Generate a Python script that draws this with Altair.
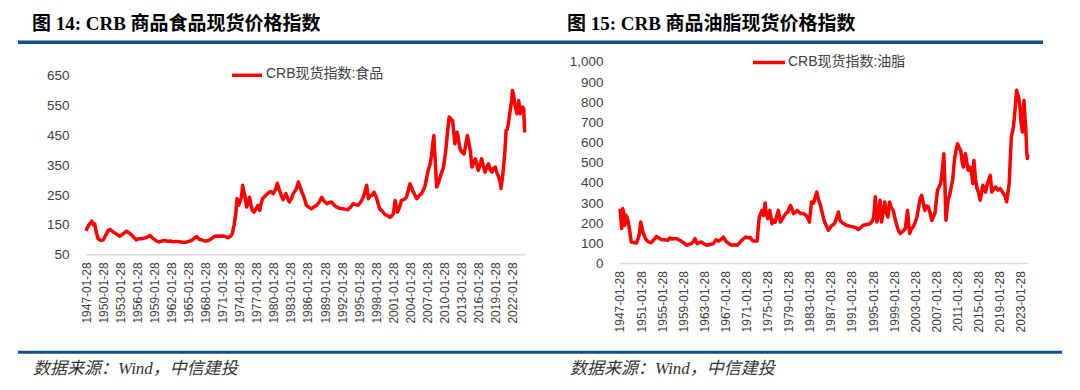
import altair as alt
import pandas as pd

# ---------------- data ----------------
food_year = [1947.08, 1947.3, 1947.5, 1947.8, 1948.1, 1948.4, 1948.6, 1948.8, 1949.2, 1949.6,
             1950.1, 1950.6, 1951.0, 1951.3, 1951.9, 1952.4, 1953.0, 1953.6, 1954.2, 1954.6,
             1955.0, 1955.5, 1955.9, 1956.4, 1956.8, 1957.3, 1957.7, 1958.3, 1958.9, 1959.5,
             1960.0, 1960.5, 1961.0, 1961.4, 1961.8, 1962.4, 1963.0, 1963.7, 1964.5, 1964.9,
             1965.3, 1965.8, 1966.2, 1966.5, 1967.0, 1967.5, 1968.0, 1968.4, 1968.8, 1969.3,
             1969.7, 1970.3, 1970.8, 1971.2, 1971.6, 1972.0, 1972.5, 1972.8, 1973.1, 1973.4,
             1973.6, 1973.9, 1974.2, 1974.4, 1974.6, 1974.8, 1975.0, 1975.3, 1975.6, 1975.8,
             1976.1, 1976.3, 1976.6, 1977.0, 1977.3, 1977.6, 1977.8, 1978.1, 1978.6, 1979.1,
             1979.5, 1980.0, 1980.4, 1980.7, 1981.1, 1981.4, 1981.7, 1982.2, 1982.5, 1982.8,
             1983.2, 1983.5, 1984.0, 1984.4, 1984.7, 1985.1, 1985.3, 1985.8, 1986.2, 1986.7,
             1987.1, 1987.6, 1988.0, 1988.5, 1988.9, 1989.4, 1989.8, 1990.2, 1990.6, 1991.1,
             1991.7, 1992.3, 1993.1, 1993.6, 1994.0, 1994.5, 1994.9, 1995.4, 1995.8, 1996.1,
             1996.4, 1996.7, 1997.0, 1997.3, 1997.7, 1998.1, 1998.4, 1998.7, 1999.2, 1999.6,
             2000.0, 2000.5, 2000.8, 2001.1, 2001.4, 2001.8, 2002.2, 2002.5, 2003.0, 2003.4,
             2004.0, 2004.3, 2004.6, 2005.2, 2005.6, 2006.0, 2006.6, 2007.2, 2007.5, 2007.8,
             2008.0, 2008.2, 2008.4, 2008.7, 2009.0, 2009.3, 2009.9, 2010.3, 2010.6, 2010.9,
             2011.2, 2011.5, 2011.9, 2012.3, 2012.5, 2012.8, 2013.1, 2013.5, 2014.1, 2014.4,
             2014.6, 2014.9, 2015.2, 2015.5, 2016.0, 2016.3, 2016.6, 2017.0, 2017.2, 2017.5,
             2017.8, 2018.1, 2018.4, 2018.7, 2019.0, 2019.3, 2019.6, 2019.9, 2020.0, 2020.2,
             2020.4, 2020.7, 2020.9, 2021.1, 2021.3, 2021.7, 2021.9, 2022.0, 2022.2, 2022.4,
             2022.6, 2022.8, 2023.0, 2023.1, 2023.4, 2023.6, 2023.8, 2024.0, 2024.15]
food_value = [130, 140, 148, 155, 163, 150, 154, 132, 104, 98,
              100, 118, 132, 135, 126, 120, 112, 120, 129, 124,
              118, 108, 100, 104, 104, 106, 108, 115, 104, 96,
              93, 97, 98, 95, 96, 94, 95, 93, 91, 94,
              96, 100, 107, 111, 102, 99, 96, 97, 100, 107,
              112, 113, 112, 113, 111, 107, 113, 121, 150, 188,
              238, 216, 232, 243, 283, 262, 248, 210, 225, 243,
              215, 199, 193, 205, 216, 199, 218, 238, 248, 257,
              262, 255, 270, 290, 265, 248, 235, 255, 240, 227,
              240, 255, 270, 294, 277, 255, 249, 216, 210, 204,
              210, 216, 225, 243, 230, 221, 225, 227, 218, 210,
              206, 204, 201, 210, 221, 218, 216, 228, 243, 262,
              283, 238, 248, 249, 260, 243, 222, 204, 195, 185,
              182, 176, 180, 188, 232, 193, 210, 232, 236, 243,
              288, 275, 260, 238, 248, 254, 277, 333, 350, 383,
              420, 450, 380, 277, 290, 310, 344, 400, 460, 512,
              505, 500, 422, 461, 440, 405, 395, 388, 450, 420,
              400, 344, 360, 372, 333, 350, 372, 340, 327, 345,
              355, 335, 327, 340, 344, 325, 310, 290, 272, 300,
              333, 400, 467, 470, 489, 545, 570, 601, 590, 556,
              540, 523, 545, 567, 523, 530, 545, 540, 460]

oil_year = [1947.08, 1947.2, 1947.4, 1947.6, 1947.8, 1948.0, 1948.2, 1948.4, 1948.7, 1948.9,
            1949.2, 1949.7, 1950.2, 1950.6, 1950.8, 1951.0, 1951.2, 1951.4, 1951.8, 1952.1,
            1952.5, 1953.0, 1953.5, 1954.0, 1954.4, 1954.9, 1955.5, 1956.2, 1956.5, 1957.0,
            1957.5, 1958.0, 1958.4, 1959.0, 1959.7, 1960.2, 1960.6, 1961.0, 1961.3, 1961.7,
            1962.1, 1962.5, 1963.0, 1963.5, 1964.1, 1964.8, 1965.3, 1965.7, 1966.1, 1966.7,
            1967.0, 1967.3, 1967.8, 1968.3, 1968.8, 1969.3, 1969.8, 1970.2, 1970.9, 1971.3,
            1971.8, 1972.1, 1972.4, 1973.1, 1973.3, 1973.5, 1974.0, 1974.3, 1974.6, 1974.8,
            1975.1, 1975.5, 1975.9, 1976.2, 1976.5, 1976.8, 1977.1, 1977.5, 1978.1, 1978.5,
            1978.9, 1979.4, 1979.7, 1980.0, 1980.4, 1980.7, 1981.3, 1981.9, 1982.3, 1982.6,
            1983.0, 1983.4, 1983.8, 1984.1, 1984.4, 1984.7, 1985.1, 1985.4, 1985.7, 1985.9,
            1986.6, 1987.0, 1987.3, 1987.8, 1988.2, 1988.5, 1988.8, 1989.4, 1990.0, 1990.6,
            1991.3, 1991.8, 1992.3, 1992.8, 1993.2, 1993.9, 1994.5, 1994.9, 1995.2, 1995.5,
            1995.8, 1996.1, 1996.4, 1996.7, 1997.0, 1997.3, 1997.6, 1997.9, 1998.2, 1998.5,
            1998.9, 1999.4, 1999.8, 2000.2, 2000.7, 2001.2, 2001.6, 2002.0, 2002.3, 2002.7,
            2003.0, 2003.4, 2004.0, 2004.3, 2004.6, 2004.9, 2005.2, 2005.6, 2006.0, 2006.2,
            2006.8, 2007.3, 2007.9, 2008.2, 2008.5, 2008.7, 2008.9, 2009.3, 2009.6, 2009.9,
            2010.2, 2010.5, 2010.8, 2011.1, 2011.4, 2011.7, 2012.0, 2012.2, 2012.4, 2012.6,
            2013.1, 2013.5, 2013.8, 2014.0, 2014.2, 2014.5, 2014.8, 2015.1, 2015.4, 2015.9,
            2016.4, 2016.8, 2017.3, 2017.6, 2018.0, 2018.3, 2018.8, 2019.2, 2019.8, 2020.2,
            2020.4, 2020.6, 2020.9, 2021.1, 2021.3, 2021.7, 2022.0, 2022.3, 2022.5, 2022.7,
            2023.0, 2023.1, 2023.4, 2023.6, 2023.7, 2023.9, 2024.0, 2024.2, 2024.35, 2024.45]
oil_value = [273, 240, 174, 273, 250, 190, 240, 231, 200, 165,
             107, 105, 102, 130, 157, 206, 185, 157, 130, 116,
             108, 104, 118, 135, 128, 119, 118, 116, 127, 122,
             124, 122, 116, 106, 91, 95, 99, 110, 124, 99,
             104, 107, 98, 91, 95, 99, 119, 112, 116, 132,
             118, 107, 98, 91, 93, 91, 104, 116, 132, 128,
             129, 118, 112, 112, 180, 231, 264, 239, 301, 250,
             223, 264, 198, 215, 206, 235, 264, 206, 231, 248,
             256, 289, 270, 248, 255, 264, 248, 248, 240, 231,
             206, 306, 300, 330, 355, 320, 289, 255, 223, 206,
             165, 180, 190, 200, 230, 256, 214, 200, 190, 186,
             182, 178, 169, 180, 190, 194, 198, 210, 231, 331,
             206, 240, 314, 206, 260, 306, 250, 231, 306, 280,
             264, 206, 170, 149, 160, 174, 264, 149, 170, 182,
             200, 231, 322, 339, 300, 264, 285, 281, 240, 214,
             248, 364, 397, 460, 545, 400, 215, 314, 340, 380,
             420, 512, 560, 595, 575, 562, 500, 479, 520, 545,
             463, 479, 440, 397, 512, 420, 372, 350, 314, 388,
             355, 400, 438, 355, 370, 380, 365, 372, 347, 330,
             306, 340, 397, 520, 628, 678, 760, 860, 840, 826,
             760, 711, 653, 760, 810, 720, 694, 562, 521, 540]

food_ticks = list(range(1947, 2023, 3))
oil_ticks = list(range(1947, 2024, 4))
food_y_ticks = [50, 150, 250, 350, 450, 550, 650]
oil_y_ticks = [0, 100, 200, 300, 400, 500, 600, 700, 800, 900, 1000]

title_left = "图 14: CRB 商品食品现货价格指数"
title_right = "图 15: CRB 商品油脂现货价格指数"
legend_left = "CRB现货指数:食品"
legend_right = "CRB现货指数:油脂"
source_text = "数据来源：Wind，中信建投"

# ---------------- styling ----------------
RED = "#FF0000"
BLUE = "#134E84"
GREY_AXIS = "#D9D9D9"
LABEL = "#404040"
SANS = "Liberation Sans, Noto Sans CJK SC"
SERIF = "Liberation Serif, Noto Sans CJK SC"
H = 201.6
WL, WR = 439, 408
TOFF = 0.077  # Jan 28 as a year fraction

one = alt.Data(values=[{"k": 0}])


def txt(s, x, y, **kw):
    return alt.Chart(one).mark_text(text=s, align="left", baseline="middle", **kw).encode(
        x=alt.value(x), y=alt.value(y))


def hrule(x1, x2, y, color, w, **kw):
    return alt.Chart(one).mark_rule(color=color, strokeWidth=w, **kw).encode(
        x=alt.value(x1), x2=alt.value(x2), y=alt.value(y))


def x_axis(ticks, offset):
    return alt.Axis(values=[t + TOFF for t in ticks],
                    labelExpr="floor(datum.value) + '-01-28'",
                    labelAngle=-90, labelFontSize=12, labelColor=LABEL, labelFont="Liberation Sans",
                    labelPadding=7, labelOverlap=False, labelFlush=False,
                    ticks=False, tickSize=0, grid=False, domain=False, title=None, offset=offset)


def y_axis(ticks, fmt):
    return alt.Axis(values=ticks, format=fmt, labelFontSize=13.5, labelColor=LABEL,
                    labelFont="Liberation Sans", labelPadding=17, labelOverlap=False,
                    labelFlush=False, ticks=False, tickSize=0,
                    grid=False, domain=False, title=None)


df_food = pd.DataFrame({"year": food_year, "value": food_value})
df_oil = pd.DataFrame({"year": oil_year, "value": oil_value})

yscale_l = alt.Scale(domain=[20.5, 696.3], nice=False, zero=False)
yaxis_l = y_axis(food_y_ticks, "d")
line_l = alt.Chart(df_food).mark_line(color=RED, strokeWidth=3.5, strokeJoin="round").encode(
    x=alt.X("year:Q", scale=alt.Scale(domain=[1947 + TOFF, 2024.22], nice=False, zero=False),
            axis=x_axis(food_ticks, -8.8)),
    y=alt.Y("value:Q", scale=yscale_l, axis=yaxis_l),
)
base_l = alt.Chart(one).mark_rule(color=GREY_AXIS, strokeWidth=1.5).encode(
    y=alt.YDatum(50, type="quantitative", scale=yscale_l, axis=yaxis_l),
    x=alt.value(0), x2=alt.value(WL))

left = alt.layer(
    line_l,
    base_l,
    # anchor at page (8,8)
    alt.Chart(one).mark_rule(strokeOpacity=0, opacity=0).encode(
        x=alt.value(-78), x2=alt.value(-77), y=alt.value(-53.7)),
    txt(title_left, -54, -37.7, font=SERIF, fontSize=19, fontWeight="bold", color="#000000"),
    hrule(-68, 957, -19.7, BLUE, 3.5),
    hrule(146, 176, 13.3, RED, 3.5),
    txt(legend_left, 180, 12.5, font=SANS, fontSize=14, color=LABEL),
    hrule(-68, 976, 290.3, BLUE, 3),
    txt(source_text, -53, 307.3, font=SERIF, fontSize=17, fontStyle="italic", color="#333333"),
).properties(width=WL, height=H)

yscale_r = alt.Scale(domain=[0, 1000], nice=False, zero=False)
yaxis_r = y_axis(oil_y_ticks, ",d")
line_r = alt.Chart(df_oil).mark_line(color=RED, strokeWidth=3.5, strokeJoin="round").encode(
    x=alt.X("year:Q", scale=alt.Scale(domain=[1947 + TOFF, 2024.46], nice=False, zero=False),
            axis=x_axis(oil_ticks, 0)),
    y=alt.Y("value:Q", scale=yscale_r, axis=yaxis_r),
)
base_r = alt.Chart(one).mark_rule(color=GREY_AXIS, strokeWidth=1.5).encode(
    y=alt.YDatum(0, type="quantitative", scale=yscale_r, axis=yaxis_r),
    x=alt.value(0), x2=alt.value(WR))

right = alt.layer(
    line_r,
    base_r,
    txt(title_right, -53, -37.7, font=SERIF, fontSize=19, fontWeight="bold", color="#000000"),
    hrule(133, 165, 0.6, RED, 3.5),
    txt(legend_right, 168, 0.3, font=SANS, fontSize=14, color=LABEL),
    txt(source_text, -50, 307.3, font=SERIF, fontSize=17, fontStyle="italic", color="#333333"),
).properties(width=WR, height=H)

chart = alt.hconcat(left, right, spacing=95, bounds="flush").properties(
    padding=0, background="#FFFFFF"
).configure_view(stroke=None)

chart.save("out.html", embed_options={"renderer": "svg", "actions": False})
